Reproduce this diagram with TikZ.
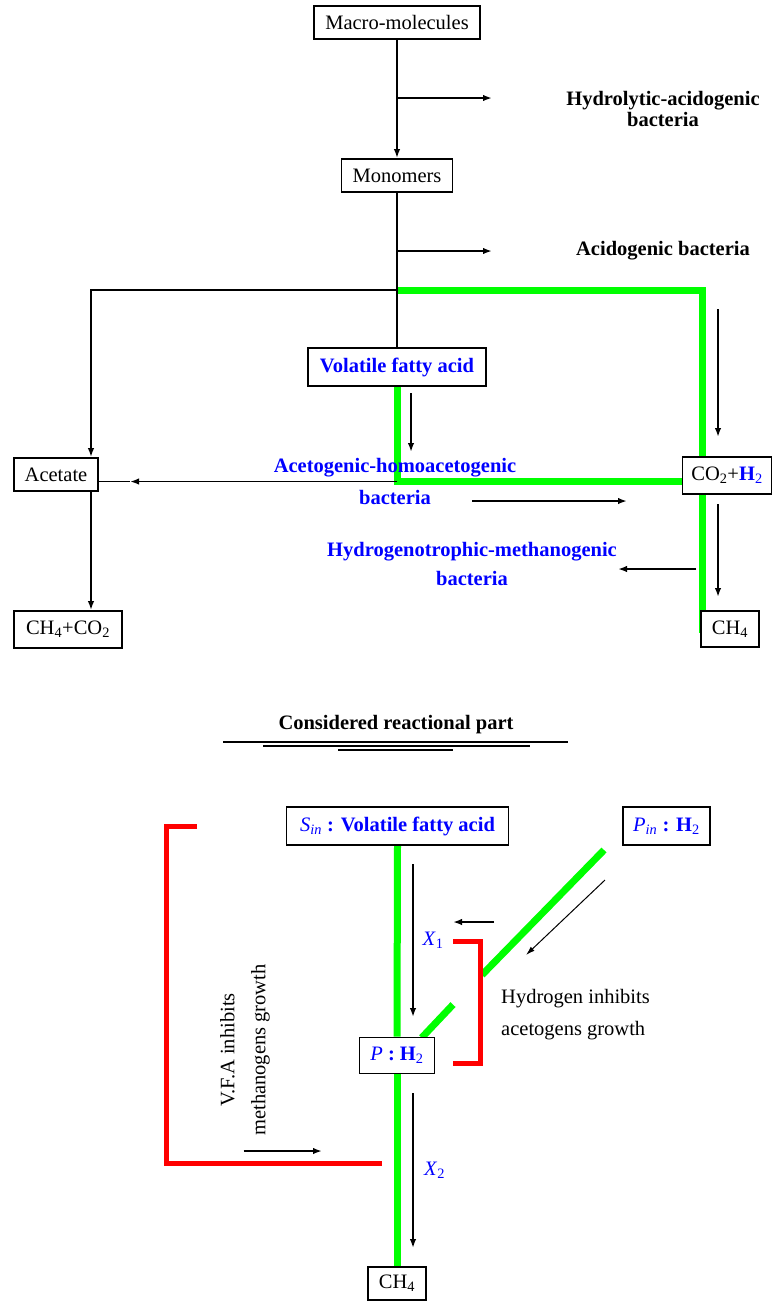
\documentclass[tikz,border=0pt]{standalone}
\usepackage{fontspec}
\setmainfont{Liberation Serif}
\usetikzlibrary{arrows.meta,backgrounds}
\definecolor{vgreen}{RGB}{0,255,0}
\definecolor{vred}{RGB}{255,0,0}
\definecolor{vblue}{RGB}{0,0,255}
\newcommand\myfs{\fontsize{20.5}{24}\selectfont}
\begin{document}
\begin{tikzpicture}[x=1pt,y=-1pt,
  box/.style={draw, line width=1.8pt, fill=white, inner sep=0pt, font=\myfs},
  conn/.style={line width=1.8pt, -{Latex[length=9pt,width=6.5pt]}},
  plainline/.style={line width=1.8pt},
  thinarrow/.style={line width=1pt, -{Latex[length=9pt,width=5.5pt]}},
  gline/.style={line width=7pt, vgreen, line join=miter, line cap=butt},
  rline/.style={line width=5pt, vred, line join=miter, line cap=butt},
  lab/.style={font=\myfs, inner sep=0pt},
  blab/.style={font=\myfs\bfseries, inner sep=0pt, align=center},
  bluelab/.style={font=\myfs\bfseries, text=vblue, inner sep=0pt, align=center}
]
\useasboundingbox (0,0) rectangle (772,1301);

% ---------------- top part: nodes
\node[box, minimum width=166pt, minimum height=33pt] (macro) at (397,22.5) {Macro-molecules};
\node[box, minimum width=111pt, minimum height=33pt] (mono) at (397,175.5) {Monomers};
\node[box, minimum width=178pt, minimum height=38pt, text=vblue, font=\myfs\bfseries] (vfa) at (397,367) {Volatile fatty acid};
\node[box, minimum width=83.5pt, minimum height=33pt] (acet) at (56,474.5) {Acetate};
\node[box, minimum width=108pt, minimum height=37pt] (ch4co2) at (68,629.5) {CH\textsubscript{4}+CO\textsubscript{2}};
\node[box, minimum width=89pt, minimum height=37pt] (co2h2) at (727,475.5) {CO\textsubscript{2}+\textcolor{vblue}{\textbf{H}\textsubscript{2}}};
\node[box, minimum width=58pt, minimum height=36.6pt] (ch4a) at (730,629) {CH\textsubscript{4}};

\node[blab, font=\fontsize{20.5}{21}\selectfont\bfseries] (hyd) at (663,109) {Hydrolytic-acidogenic\\bacteria};
\node[blab] (acid) at (663,251) {Acidogenic bacteria};
\node[bluelab, font=\fontsize{20.5}{32}\selectfont\bfseries] (aceto) at (395,481) {Acetogenic-homoacetogenic\\bacteria};
\node[bluelab, font=\fontsize{20.5}{29}\selectfont\bfseries] (hydro) at (472,563.5) {Hydrogenotrophic-methanogenic\\bacteria};

% coordinates
\coordinate (j1) at (397,290);
\coordinate (jl) at (91,290);
\coordinate (j2) at (397,481.5);
\coordinate (am) at (130,481.5);
\coordinate (gr) at (702.5,290);
\coordinate (gb) at (702.5,633);
\coordinate (b1s) at (397,98);   \coordinate (b1e) at (492,98);
\coordinate (b2s) at (397,251);  \coordinate (b2e) at (492,251);
\coordinate (a1s) at (411,393);  \coordinate (a1e) at (411,452);
\coordinate (a2s) at (718,309);  \coordinate (a2e) at (718,437);
\coordinate (a3s) at (718,504);  \coordinate (a3e) at (718,597);
\coordinate (a4s) at (472,501);  \coordinate (a4e) at (627,501);
\coordinate (a5s) at (696,569);  \coordinate (a5e) at (618,569);

\begin{pgfonlayer}{background}
  \draw[gline] (j1) -- (gr) -- (gb);
  \draw[gline] (vfa.south) -- (j2) -- (j2 -| co2h2.west);
\end{pgfonlayer}

\draw[conn] (macro) -- (mono);
\draw[plainline] (mono) -- (vfa);
\draw[conn] (b1s) -- (b1e);
\draw[conn] (b2s) -- (b2e);
\draw[conn] (j1) -- (jl) -- (jl |- acet.north);
\draw[conn] (jl |- acet.south) -- (jl |- ch4co2.north);
\draw[conn] (j2) -- (am);
\draw[plainline] (am) -- (am -| acet.east);
\draw[conn] (a1s) -- (a1e);
\draw[conn] (a2s) -- (a2e);
\draw[conn] (a3s) -- (a3e);
\draw[conn] (a4s) -- (a4e);
\draw[conn] (a5s) -- (a5e);

% ---------------- bottom part
\node[blab] (title) at (396,725) {Considered reactional part};
\draw[line width=2pt] (223,742) -- (568,742);
\draw[line width=2pt] (263,745.5) -- (530,745.5);
\draw[line width=2pt] (338,749.5) -- (453,749.5);

\node[box, minimum width=222pt, minimum height=38pt, text=vblue] (sin) at (397.5,826) {\textit{S}\textsubscript{\textit{in}} \textbf{: Volatile fatty acid}};
\node[box, minimum width=87pt, minimum height=38pt, text=vblue] (pin) at (666.5,826) {\textit{P}\textsubscript{\textit{in}} \textbf{: H}\textsubscript{2}};
\node[box, minimum width=75pt, minimum height=36pt, text=vblue] (p) at (397,1055.5) {\textit{P} \textbf{: H}\textsubscript{2}};
\node[box, minimum width=57.5pt, minimum height=33pt] (ch4b) at (397,1283.5) {CH\textsubscript{4}};

\node[lab, text=vblue] (x1) at (433,940) {\textit{X}\textsubscript{1}};
\node[lab, text=vblue] (x2) at (434.6,1170) {\textit{X}\textsubscript{2}};
\node[lab, anchor=west, align=left, font=\fontsize{20.5}{32}\selectfont] (hinh) at (501,1015) {Hydrogen inhibits\\acetogens growth};
\node[lab, rotate=90, align=center, font=\fontsize{20.5}{31}\selectfont] (vinh) at (245,1050) {V.F.A inhibits\\methanogens growth};

\coordinate (d1) at (604,850);
\coordinate (d2) at (482,974.9);
\coordinate (d3) at (453,1004.6);
\coordinate (d4) at (421.7,1037.7);
\coordinate (r1) at (453,941);   \coordinate (r2) at (480,941);
\coordinate (r3) at (480,1063);  \coordinate (r4) at (453,1063);
\coordinate (l1) at (197,826);   \coordinate (l2) at (166,826);
\coordinate (l3) at (166,1163);  \coordinate (l4) at (382,1163);
\coordinate (c1s) at (413,864);  \coordinate (c1e) at (413,1017);
\coordinate (c2s) at (494,922);  \coordinate (c2e) at (453,922);
\coordinate (c3s) at (413,1093); \coordinate (c3e) at (413,1248);
\coordinate (c4s) at (243.5,1151); \coordinate (c4e) at (322,1151);
\coordinate (t1s) at (605,880);  \coordinate (t1e) at (526,955);

\begin{pgfonlayer}{background}
  \draw[gline] (sin.south) -- (p.north);
  \draw[gline] (p.south) -- (ch4b.north);
  \draw[gline] (d1) -- (d2);
  \draw[gline] (d3) -- (d4);
\end{pgfonlayer}
\draw[rline] (r1) -- (r2) -- (r3) -- (r4);
\draw[rline] (l1) -- (l2) -- (l3) -- (l4);

\draw[conn] (c1s) -- (c1e);
\draw[conn] (c2s) -- (c2e);
\draw[conn] (c3s) -- (c3e);
\draw[conn] (c4s) -- (c4e);
\draw[thinarrow] (t1s) -- (t1e);
\end{tikzpicture}
\end{document}
